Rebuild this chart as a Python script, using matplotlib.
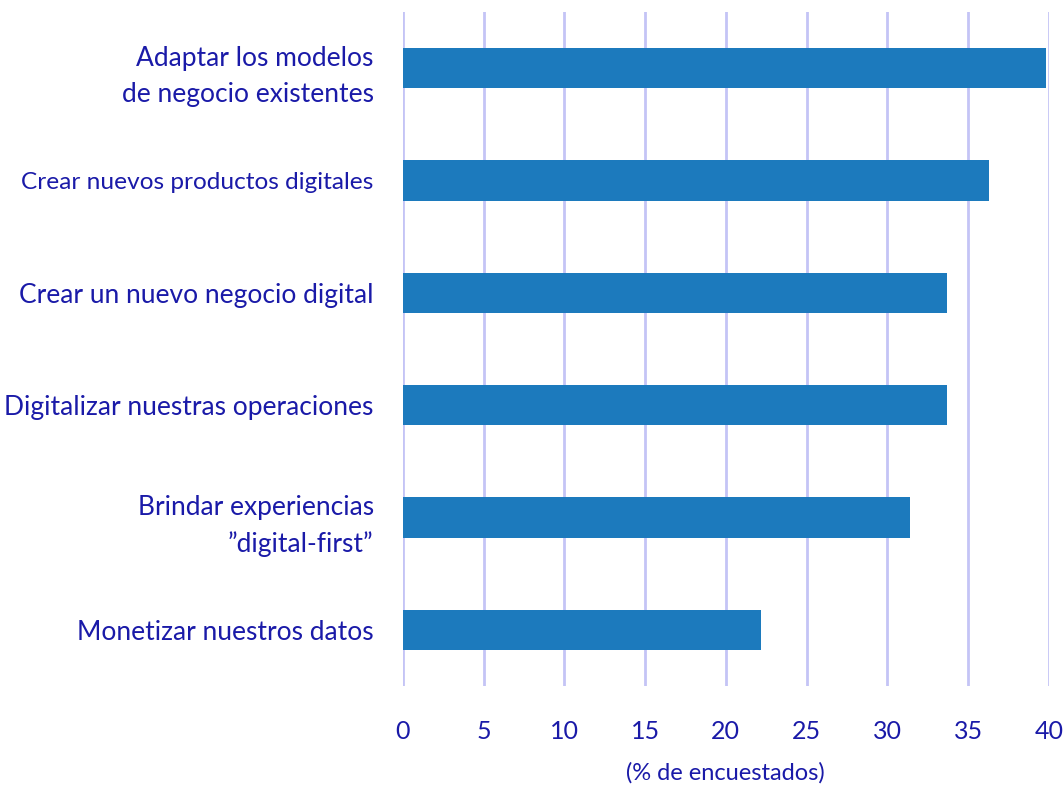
import numpy as np
import matplotlib.pyplot as plt

categories = [
    "Adaptar los modelos\nde negocio existentes",
    "Crear nuevos productos digitales",
    "Crear un nuevo negocio digital",
    "Digitalizar nuestras operaciones",
    "Brindar experiencias\n\u201ddigital-first\u201d",
    "Monetizar nuestros datos",
]
values = [39.8, 36.3, 33.7, 33.7, 31.4, 22.2]
xticks = [0, 5, 10, 15, 20, 25, 30, 35, 40]

text_color = "#1a1aa8"
plt.rcParams["font.family"] = ["Lato", "DejaVu Sans"]

fig = plt.figure(figsize=(10.63, 7.87), dpi=100)
ax = fig.add_axes([0.379, 0.128, 0.6077, 0.857])

y = np.arange(len(categories))
ax.barh(y, values, height=0.36, color="#1c7abd", zorder=3)

ax.set_ylim(len(categories) - 0.5, -0.5)
ax.set_xlim(0, 40)
ax.set_xticks(xticks)
ax.set_yticks(y)
ax.set_yticklabels(categories, fontsize=19, color=text_color, linespacing=1.55)
# the long label is set tighter in the original, shrink it a bit so it fits
ax.get_yticklabels()[1].set_fontsize(17.6)
ax.tick_params(axis="y", length=0, pad=21)
ax.tick_params(axis="x", length=0, pad=24, labelsize=18, labelcolor=text_color)
ax.grid(axis="x", color="#c4c4f6", linewidth=2, zorder=0)
for s in ax.spines.values():
    s.set_visible(False)

ax.set_xlabel("(% de encuestados)", fontsize=17, color=text_color, labelpad=14)

fig.savefig("out.png", dpi=100)
